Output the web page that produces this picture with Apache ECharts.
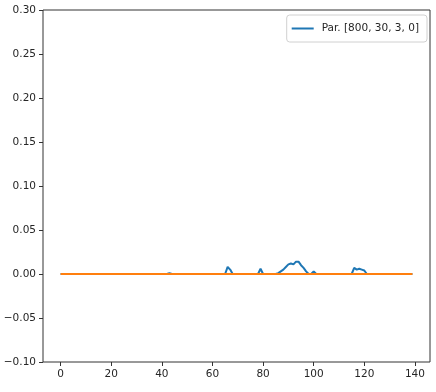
<!DOCTYPE html>
<html>
<head>
<meta charset="utf-8">
<script src="https://cdn.jsdelivr.net/npm/echarts@6/dist/echarts.min.js"></script>
<style>
  html, body { margin: 0; padding: 0; background: #fff; }
  #chart { width: 436px; height: 392px; }
</style>
</head>
<body>
<div id="chart"></div>
<script>
var xTicks = [0, 20, 40, 60, 80, 100, 120, 140];

// blue series, one value per x = 0..139
var parValues = [
  0, 0, 0, 0, 0, 0, 0, 0, 0, 0,
  0, 0, 0, 0, 0, 0, 0, 0, 0, 0,
  0, 0, 0, 0, 0, 0, 0, 0, 0, 0,
  0, 0, 0, 0, 0, 0, 0, 0, 0, 0,
  0, 0, 0, 0.001, 0, 0, 0, 0, 0, 0,
  0, 0, 0, 0, 0, 0, 0, 0, 0, 0,
  0, 0, 0, 0, 0, 0, 0.008, 0.005, 0, 0,
  0, 0, 0, 0, 0, 0, 0, 0, 0, 0.006,
  0, 0, 0, 0, 0, 0, 0.001, 0.003, 0.005, 0.008,
  0.011, 0.012, 0.011, 0.014, 0.014, 0.010, 0.007, 0.003, 0, 0,
  0.003, 0, 0, 0, 0, 0, 0, 0, 0, 0,
  0, 0, 0, 0, 0, 0, 0.007, 0.005, 0.006, 0.005,
  0.004, 0, 0, 0, 0, 0, 0, 0, 0, 0,
  0, 0, 0, 0, 0, 0, 0, 0, 0, 0
];

// orange series, flat
var refValues = [
  0, 0, 0, 0, 0, 0, 0, 0, 0, 0,
  0, 0, 0, 0, 0, 0, 0, 0, 0, 0,
  0, 0, 0, 0, 0, 0, 0, 0, 0, 0,
  0, 0, 0, 0, 0, 0, 0, 0, 0, 0,
  0, 0, 0, 0, 0, 0, 0, 0, 0, 0,
  0, 0, 0, 0, 0, 0, 0, 0, 0, 0,
  0, 0, 0, 0, 0, 0, 0, 0, 0, 0,
  0, 0, 0, 0, 0, 0, 0, 0, 0, 0,
  0, 0, 0, 0, 0, 0, 0, 0, 0, 0,
  0, 0, 0, 0, 0, 0, 0, 0, 0, 0,
  0, 0, 0, 0, 0, 0, 0, 0, 0, 0,
  0, 0, 0, 0, 0, 0, 0, 0, 0, 0,
  0, 0, 0, 0, 0, 0, 0, 0, 0, 0,
  0, 0, 0, 0, 0, 0, 0, 0, 0, 0
];

var parName = 'Par. [800, 30, 3, 0]';

function toPairs(arr) {
  return arr.map(function (v, i) { return [i, v]; });
}

var chart = echarts.init(document.getElementById('chart'));
var labelFont = { fontFamily: 'DejaVu Sans', fontSize: 10.5, color: '#262626' };

option = {
  animation: false,
  grid: {
    left: 43, right: 6, top: 10, bottom: 30,
    show: true,
    borderColor: '#333',
    borderWidth: 1
  },
  legend: {
    data: [parName],
    right: 9,
    top: 15,
    padding: [8, 8, 8, 5],
    itemWidth: 22,
    itemHeight: 14,
    icon: 'path://M0,6 L22,6 L22,8 L0,8 Z',
    borderColor: '#d0d0d0',
    borderWidth: 1,
    borderRadius: 3,
    backgroundColor: 'rgba(255,255,255,0.8)',
    textStyle: { fontFamily: 'DejaVu Sans', fontSize: 10.5, color: '#262626', padding: [0, 0, 0, 3] }
  },
  xAxis: {
    type: 'value',
    min: -6.95,
    max: 145.95,
    axisLine: { show: false, onZero: false },
    splitLine: { show: false },
    axisTick: {
      show: true, length: 4, customValues: xTicks,
      lineStyle: { color: '#333' }
    },
    axisLabel: Object.assign({ customValues: xTicks, margin: 7 }, labelFont)
  },
  yAxis: {
    type: 'value',
    min: -0.1,
    max: 0.3,
    interval: 0.05,
    axisLine: { show: false, onZero: false },
    splitLine: { show: false },
    axisTick: { show: true, length: 4, lineStyle: { color: '#333' } },
    axisLabel: Object.assign({
      margin: 7,
      formatter: function (v) {
        var s = Math.abs(v).toFixed(2);
        return (v < -1e-9 ? '\u2212' : '') + s;
      }
    }, labelFont)
  },
  series: [
    {
      name: parName,
      type: 'line',
      data: toPairs(parValues),
      showSymbol: false,
      lineStyle: { color: '#1f77b4', width: 2 },
      itemStyle: { color: '#1f77b4' },
      z: 2
    },
    {
      name: 'ref',
      type: 'line',
      data: toPairs(refValues),
      showSymbol: false,
      lineStyle: { color: '#ff7f0e', width: 2 },
      itemStyle: { color: '#ff7f0e' },
      z: 3
    }
  ]
};
chart.setOption(option);
</script>
</body>
</html>
